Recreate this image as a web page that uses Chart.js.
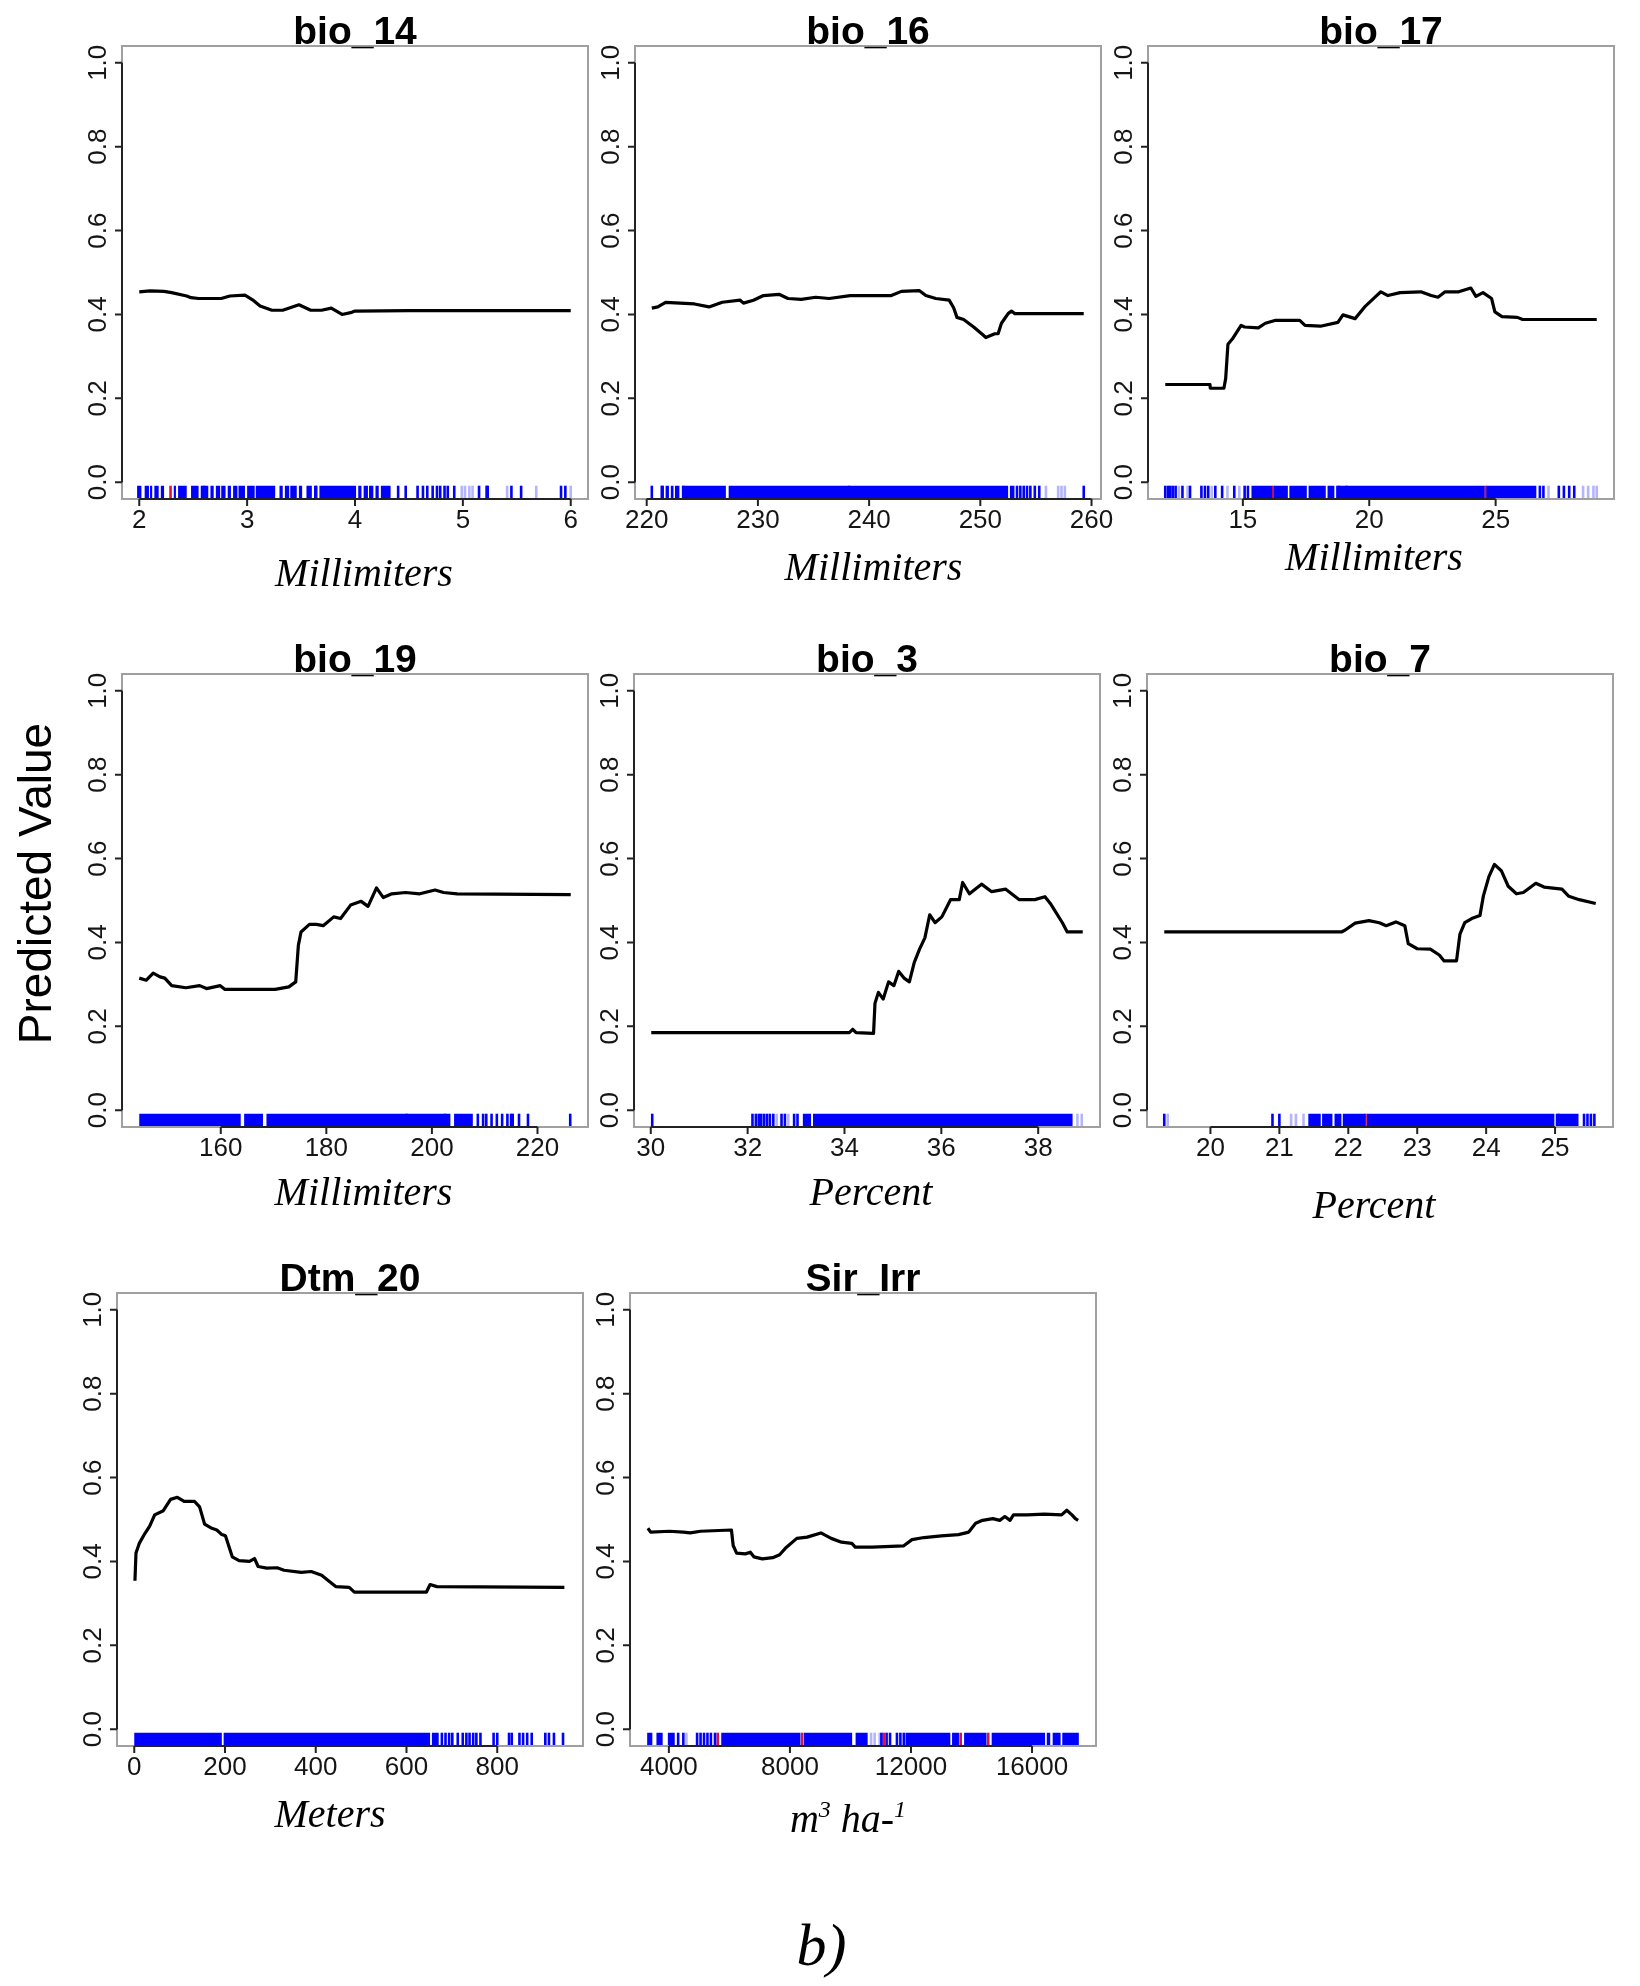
<!DOCTYPE html>
<html lang="en">
  <head>
    <meta charset="UTF-8" />
    <title>Predicted value - response curves b)</title>
    <script src="https://cdn.jsdelivr.net/npm/chart.js@4.4.1/dist/chart.umd.min.js"></script>
    <style>
      body {
        margin: 0;
        background: #ffffff;
      }
      #page {
        position: relative;
        width: 1640px;
        height: 1986px;
        overflow: hidden;
        background: #ffffff;
      }
      #page canvas {
        position: absolute;
      }
    </style>
  </head>
  <body>
    <div id="page">
      <canvas id="labels" width="1640" height="1986" style="left:0;top:0"></canvas>
    </div>

    <script>
      // ---- shared y axis ----
      var yTicks = [0, 0.2, 0.4, 0.6, 0.8, 1.0];
      var yTickLabels = ["0.0", "0.2", "0.4", "0.6", "0.8", "1.0"];

      // ---- bio_14 ----
      var bio14Range = [2.0, 6.0];
      var bio14XTicks = [2, 3, 4, 5, 6];
      var bio14XLabels = ["2", "3", "4", "5", "6"];
      var bio14X = [2.0, 2.1, 2.23, 2.3, 2.44, 2.48, 2.55, 2.76, 2.84, 2.98, 3.05, 3.12, 3.23, 3.33, 3.48, 3.59, 3.69, 3.78, 3.88, 3.97, 4.0, 4.5, 5.0, 6.0];
      var bio14Y = [0.454, 0.456, 0.455, 0.452, 0.444, 0.44, 0.438, 0.438, 0.444, 0.446, 0.435, 0.42, 0.41, 0.41, 0.423, 0.41, 0.41, 0.415, 0.4, 0.405, 0.408, 0.409, 0.409, 0.409];
      var bio14Rug = [[1.98, 2.02], [2.05, 2.09], [2.1, 2.12], [2.14, 2.18], [2.2, 2.23], [2.32, 2.34], [2.36, 2.44], [2.48, 2.55], [2.57, 2.64], [2.66, 2.69], [2.71, 2.75], [2.76, 2.8], [2.82, 2.85], [2.87, 2.91], [2.92, 2.98], [3.0, 3.07], [3.08, 3.26], [3.3, 3.33], [3.35, 3.39], [3.4, 3.46], [3.48, 3.51], [3.55, 3.6], [3.62, 3.65], [3.67, 4.01], [4.03, 4.06], [4.08, 4.12], [4.13, 4.17], [4.19, 4.22], [4.24, 4.33]];
      var bio14RugTicks = [4.4, 4.47, 4.58, 4.63, 4.67, 4.72, 4.76, 4.79, 4.83, 4.86, 4.92, 5.15, 5.22, 5.23, 5.45, 5.54, 5.91, 5.95];
      var bio14RugLight = [4.99, 5.02, 5.06, 5.09, 5.41, 5.68, 6.0];
      var bio14RugRed = [2.29, 2.6, 3.64];

      // ---- bio_16 ----
      var bio16Range = [220.5, 259.3];
      var bio16XTicks = [220, 230, 240, 250, 260];
      var bio16XLabels = ["220", "230", "240", "250", "260"];
      var bio16X = [220.46, 221.0, 221.7, 224.3, 225.6, 226.8, 228.4, 228.7, 229.6, 230.5, 231.9, 232.7, 233.9, 235.2, 236.4, 238.3, 240.4, 242.0, 242.9, 244.5, 245.1, 246.0, 247.2, 247.6, 247.9, 248.5, 249.4, 250.2, 250.5, 251.3, 251.6, 251.9, 252.5, 252.8, 253.1, 259.3];
      var bio16Y = [0.415, 0.418, 0.429, 0.425, 0.418, 0.429, 0.434, 0.427, 0.434, 0.445, 0.448, 0.438, 0.436, 0.441, 0.438, 0.445, 0.445, 0.445, 0.455, 0.457, 0.445, 0.438, 0.434, 0.416, 0.393, 0.388, 0.37, 0.352, 0.345, 0.354, 0.354, 0.379, 0.402, 0.408, 0.402, 0.402];
      var bio16Rug = [[221.24, 221.55], [221.7, 222.0], [222.17, 222.41], [222.54, 222.94], [223.16, 227.12], [227.37, 252.5], [252.66, 253.07]];
      var bio16RugTicks = [220.46, 253.3, 253.6, 253.9, 254.2, 254.5, 254.9, 255.3, 259.3];
      var bio16RugLight = [255.9, 257.0, 257.3, 257.6];
      var bio16RugRed = [221.4, 223.3, 238.2];

      // ---- bio_17 ----
      var bio17Range = [11.93, 29.0];
      var bio17XTicks = [15, 20, 25];
      var bio17XLabels = ["15", "20", "25"];
      var bio17X = [11.93, 13.7, 13.71, 14.25, 14.32, 14.41, 14.59, 14.79, 14.93, 15.07, 15.61, 15.89, 16.3, 17.25, 17.46, 18.07, 18.76, 18.96, 19.44, 19.85, 20.26, 20.46, 20.74, 21.22, 22.04, 22.45, 22.72, 23.0, 23.54, 24.02, 24.22, 24.5, 24.84, 24.97, 25.25, 25.86, 26.07, 29.0];
      var bio17Y = [0.233, 0.233, 0.224, 0.224, 0.247, 0.329, 0.342, 0.361, 0.374, 0.37, 0.368, 0.379, 0.386, 0.386, 0.374, 0.372, 0.381, 0.399, 0.39, 0.42, 0.443, 0.454, 0.445, 0.452, 0.454, 0.445, 0.441, 0.454, 0.454, 0.463, 0.443, 0.452, 0.438, 0.406, 0.395, 0.393, 0.388, 0.388];
      var bio17Rug = [[15.34, 16.16], [16.23, 16.78], [16.84, 17.53], [17.6, 18.28], [18.35, 18.62], [18.69, 24.56], [24.63, 26.61]];
      var bio17RugTicks = [11.93, 12.04, 12.13, 12.23, 12.34, 12.61, 12.91, 13.36, 13.5, 13.63, 13.91, 14.18, 14.66, 15.07, 15.2, 26.75, 26.89, 27.5, 27.7, 27.91, 28.11];
      var bio17RugLight = [12.47, 12.81, 13.77, 14.39, 14.86, 27.09, 28.46, 28.66, 28.87, 29.0];
      var bio17RugRed = [16.2, 18.8, 19.1, 24.6];

      // ---- bio_19 ----
      var bio19Range = [144.56, 226.3];
      var bio19XTicks = [160, 180, 200, 220];
      var bio19XLabels = ["160", "180", "200", "220"];
      var bio19X = [144.56, 145.9, 147.2, 148.5, 149.4, 150.7, 153.4, 156.0, 157.3, 159.9, 160.8, 165.7, 170.3, 172.9, 174.2, 174.7, 175.2, 176.8, 178.1, 179.4, 181.4, 182.7, 184.6, 186.6, 187.9, 189.5, 190.8, 192.4, 195.0, 197.7, 200.6, 202.2, 204.8, 226.3];
      var bio19Y = [0.315, 0.31, 0.327, 0.318, 0.315, 0.297, 0.292, 0.297, 0.29, 0.297, 0.288, 0.288, 0.288, 0.294, 0.306, 0.393, 0.425, 0.443, 0.443, 0.44, 0.461, 0.457, 0.489, 0.498, 0.486, 0.53, 0.507, 0.516, 0.519, 0.516, 0.525, 0.519, 0.516, 0.514];
      var bio19Rug = [[144.56, 163.78], [164.43, 168.0], [168.66, 203.5], [204.2, 207.75]];
      var bio19RugTicks = [208.7, 209.7, 210.3, 211.3, 212.3, 213.3, 214.3, 215.0, 215.3, 216.5, 218.2, 226.2];
      var bio19RugLight = [];
      var bio19RugRed = [195.2, 202.5];

      // ---- bio_3 ----
      var bio3Range = [30.01, 38.92];
      var bio3XTicks = [30, 32, 34, 36, 38];
      var bio3XLabels = ["30", "32", "34", "36", "38"];
      var bio3X = [30.01, 34.1, 34.17, 34.24, 34.6, 34.63, 34.7, 34.8, 34.91, 35.02, 35.12, 35.23, 35.34, 35.44, 35.55, 35.66, 35.76, 35.87, 36.01, 36.19, 36.37, 36.44, 36.58, 36.83, 37.04, 37.33, 37.61, 37.93, 38.14, 38.25, 38.5, 38.6, 38.92];
      var bio3Y = [0.185, 0.185, 0.193, 0.185, 0.183, 0.255, 0.281, 0.265, 0.306, 0.297, 0.331, 0.315, 0.306, 0.352, 0.384, 0.411, 0.466, 0.447, 0.461, 0.502, 0.502, 0.543, 0.516, 0.539, 0.521, 0.527, 0.502, 0.502, 0.509, 0.493, 0.447, 0.425, 0.425];
      var bio3Rug = [[33.14, 33.31], [33.35, 38.71]];
      var bio3RugTicks = [30.03, 32.1, 32.17, 32.23, 32.28, 32.34, 32.4, 32.46, 32.53, 32.7, 32.77, 32.96, 33.03];
      var bio3RugLight = [32.6, 32.84, 38.81, 38.9];
      var bio3RugRed = [];

      // ---- bio_7 ----
      var bio7Range = [19.33, 25.59];
      var bio7XTicks = [20, 21, 22, 23, 24, 25];
      var bio7XLabels = ["20", "21", "22", "23", "24", "25"];
      var bio7X = [19.33, 21.9, 21.95, 22.1, 22.3, 22.45, 22.55, 22.69, 22.82, 22.87, 23.0, 23.19, 23.32, 23.39, 23.57, 23.62, 23.69, 23.79, 23.91, 23.96, 24.04, 24.12, 24.22, 24.32, 24.44, 24.54, 24.72, 24.84, 25.1, 25.2, 25.35, 25.59];
      var bio7Y = [0.425, 0.425, 0.429, 0.446, 0.452, 0.447, 0.44, 0.449, 0.44, 0.397, 0.385, 0.384, 0.37, 0.356, 0.356, 0.42, 0.447, 0.457, 0.464, 0.511, 0.557, 0.586, 0.571, 0.534, 0.516, 0.519, 0.541, 0.532, 0.527, 0.51, 0.502, 0.493];
      var bio7Rug = [[21.42, 21.6], [21.62, 21.77], [21.8, 21.9], [21.92, 22.25], [22.27, 24.99], [25.01, 25.34]];
      var bio7RugTicks = [19.33, 20.9, 21.0, 25.42, 25.47, 25.52, 25.57];
      var bio7RugLight = [19.38, 21.17, 21.24, 21.35];
      var bio7RugRed = [22.25, 25.05];

      // ---- Dtm_20 ----
      var dtm20Range = [0, 951];
      var dtm20XTicks = [0, 200, 400, 600, 800];
      var dtm20XLabels = ["0", "200", "400", "600", "800"];
      var dtm20X = [1.5, 3.8, 11, 23, 34, 45, 64, 80, 95, 110, 133, 144, 155, 171, 182, 193, 201, 216, 231, 254, 265, 273, 292, 315, 330, 368, 390, 413, 428, 444, 474, 485, 644, 652, 667, 948];
      var dtm20Y = [0.354, 0.42, 0.443, 0.466, 0.484, 0.511, 0.521, 0.548, 0.553, 0.543, 0.543, 0.53, 0.489, 0.479, 0.475, 0.464, 0.461, 0.411, 0.402, 0.4, 0.407, 0.388, 0.384, 0.385, 0.379, 0.374, 0.376, 0.367, 0.354, 0.34, 0.338, 0.327, 0.327, 0.345, 0.34, 0.338];
      var dtm20Rug = [[0, 193], [197, 652], [656, 671]];
      var dtm20RugTicks = [678, 686, 694, 701, 713, 724, 732, 739, 747, 754, 763, 792, 800, 826, 832, 849, 857, 866, 876, 906, 914, 925, 945];
      var dtm20RugLight = [];
      var dtm20RugRed = [];

      // ---- Sir_Irr ----
      var sirRange = [3286, 17543];
      var sirXTicks = [4000, 8000, 12000, 16000];
      var sirXLabels = ["4000", "8000", "12000", "16000"];
      var sirX = [3307, 3398, 4023, 4477, 4705, 5045, 6068, 6125, 6239, 6523, 6693, 6807, 7091, 7432, 7659, 7886, 8227, 8568, 9023, 9364, 9705, 10045, 10159, 10727, 11750, 12034, 12432, 13000, 13568, 13909, 14136, 14364, 14705, 14932, 15102, 15273, 15386, 15841, 16409, 16977, 17148, 17318, 17432, 17523];
      var sirY = [0.479, 0.47, 0.472, 0.47, 0.468, 0.472, 0.475, 0.438, 0.42, 0.418, 0.422, 0.411, 0.406, 0.409, 0.416, 0.434, 0.455, 0.458, 0.468, 0.455, 0.446, 0.443, 0.434, 0.434, 0.437, 0.452, 0.457, 0.461, 0.464, 0.47, 0.491, 0.498, 0.502, 0.498, 0.507, 0.498, 0.511, 0.511, 0.513, 0.511, 0.522, 0.511, 0.502, 0.498];
      var sirRug = [[3283, 3454], [3590, 3795], [3966, 4194], [5730, 8348], [8462, 10056], [10170, 10568], [11820, 13300], [13357, 13585], [13755, 14495], [14666, 16430], [16487, 16601], [16681, 16943], [16999, 17546]];
      var sirRugTicks = [4307, 4478, 4933, 5047, 5161, 5275, 5389, 5525, 11023, 11194, 11308, 11536, 11650, 11763];
      var sirRugLight = [4580, 10682, 10800, 10966];
      var sirRugRed = [5616, 8405, 13642, 14552, 11100];

      // ---- panel placement (pixels on the page) ----
      var panels = [
        { title: "bio_14", xt: [["Millimiters", 0]], range: bio14Range, ticks: bio14XTicks, labels: bio14XLabels, x: bio14X, y: bio14Y, rug: bio14Rug, rt: bio14RugTicks, rl: bio14RugLight, rr: bio14RugRed, left: 121.7, top: 45.7, tdx: 9, tdy: 86.7 },
        { title: "bio_16", xt: [["Millimiters", 0]], range: bio16Range, ticks: bio16XTicks, labels: bio16XLabels, x: bio16X, y: bio16Y, rug: bio16Rug, rt: bio16RugTicks, rl: bio16RugLight, rr: bio16RugRed, left: 635.1, top: 45.7, tdx: 5.5, tdy: 80.7 },
        { title: "bio_17", xt: [["Millimiters", 0]], range: bio17Range, ticks: bio17XTicks, labels: bio17XLabels, x: bio17X, y: bio17Y, rug: bio17Rug, rt: bio17RugTicks, rl: bio17RugLight, rr: bio17RugRed, left: 1148.2, top: 45.7, tdx: -7, tdy: 70.7 },
        { title: "bio_19", xt: [["Millimiters", 0]], range: bio19Range, ticks: bio19XTicks, labels: bio19XLabels, x: bio19X, y: bio19Y, rug: bio19Rug, rt: bio19RugTicks, rl: bio19RugLight, rr: bio19RugRed, left: 122, top: 673.6, tdx: 8.5, tdy: 78 },
        { title: "bio_3", xt: [["Percent", 0]], range: bio3Range, ticks: bio3XTicks, labels: bio3XLabels, x: bio3X, y: bio3Y, rug: bio3Rug, rt: bio3RugTicks, rl: bio3RugLight, rr: bio3RugRed, left: 634, top: 673.6, tdx: 4, tdy: 78 },
        { title: "bio_7", xt: [["Percent", 0]], range: bio7Range, ticks: bio7XTicks, labels: bio7XLabels, x: bio7X, y: bio7Y, rug: bio7Rug, rt: bio7RugTicks, rl: bio7RugLight, rr: bio7RugRed, left: 1146.5, top: 673.6, tdx: -6, tdy: 91 },
        { title: "Dtm_20", xt: [["Meters", 0]], range: dtm20Range, ticks: dtm20XTicks, labels: dtm20XLabels, x: dtm20X, y: dtm20Y, rug: dtm20Rug, rt: dtm20RugTicks, rl: dtm20RugLight, rr: dtm20RugRed, left: 116.8, top: 1292.9, tdx: -20, tdy: 81 },
        { title: "Sir_Irr", xt: [["m", 0], ["3", 1], [" ha-", 0], ["1", 1]], range: sirRange, ticks: sirXTicks, labels: sirXLabels, x: sirX, y: sirY, rug: sirRug, rt: sirRugTicks, rl: sirRugLight, rr: sirRugRed, left: 630, top: 1292.9, tdx: -15, tdy: 86 }
      ];

      var BOX_W = 466;
      var BOX_H = 452.6;
      var PAD = { left: 100, top: 60, right: 14, bottom: 130 };
      var RUG_Y = -0.0245;
      var SANS = '"Liberation Sans", Arial, sans-serif';
      var SERIF = '"Liberation Serif", "Times New Roman", serif';

      // box, axes, ticks and all panel texts, placed from the chart's own scales
      var framePlugin = {
        id: "frame",
        afterDraw: function (chart, args, opts) {
          var p = opts.panel;
          var ctx = chart.ctx;
          var a = chart.chartArea;
          var xs = chart.scales.x;
          var ys = chart.scales.y;
          ctx.save();

          ctx.strokeStyle = "#a0a0a0";
          ctx.lineWidth = 2;
          ctx.strokeRect(a.left, a.top, a.right - a.left, a.bottom - a.top);

          var xp = p.ticks.map(function (v) { return xs.getPixelForValue(v); });
          var yp = yTicks.map(function (v) { return ys.getPixelForValue(v); });
          ctx.strokeStyle = "#222";
          ctx.lineWidth = 2;
          ctx.beginPath();
          ctx.moveTo(xp[0], a.bottom);
          ctx.lineTo(xp[xp.length - 1], a.bottom);
          xp.forEach(function (px) { ctx.moveTo(px, a.bottom); ctx.lineTo(px, a.bottom + 7); });
          ctx.moveTo(a.left, yp[0]);
          ctx.lineTo(a.left, yp[yp.length - 1]);
          yp.forEach(function (py) { ctx.moveTo(a.left, py); ctx.lineTo(a.left - 7, py); });
          ctx.stroke();

          ctx.fillStyle = "#151515";
          ctx.font = "26px " + SANS;
          ctx.textAlign = "center";
          ctx.textBaseline = "middle";
          p.labels.forEach(function (t, i) { ctx.fillText(t, xp[i], a.bottom + 22); });
          ctx.textBaseline = "alphabetic";
          yp.forEach(function (py, i) {
            ctx.save();
            ctx.translate(a.left - 16, py);
            ctx.rotate(-Math.PI / 2);
            ctx.fillText(yTickLabels[i], 0, 0);
            ctx.restore();
          });

          ctx.fillStyle = "#000";
          ctx.font = "bold 39px " + SANS;
          ctx.fillText(p.title, (a.left + a.right) / 2, a.top - 2);

          // italic axis title, with superscripts where needed
          var big = "italic 40px " + SERIF;
          var small = "italic 24px " + SERIF;
          var total = 0;
          p.xt.forEach(function (part) {
            ctx.font = part[1] ? small : big;
            total += ctx.measureText(part[0]).width;
          });
          var cx = (a.left + a.right) / 2 + p.tdx - total / 2;
          var by = a.bottom + p.tdy;
          ctx.textAlign = "left";
          p.xt.forEach(function (part) {
            ctx.font = part[1] ? small : big;
            ctx.fillText(part[0], cx, part[1] ? by - 15 : by);
            cx += ctx.measureText(part[0]).width;
          });
          ctx.restore();
        }
      };

      function pts(xArr, yArr) {
        return xArr.map(function (v, i) { return { x: v, y: yArr[i] }; });
      }
      function rugPts(arr) {
        return arr.map(function (v) { return { x: v, y: RUG_Y }; });
      }
      function bandPts(bands) {
        var out = [];
        bands.forEach(function (b) {
          out.push({ x: b[0], y: RUG_Y }, { x: b[1], y: RUG_Y }, { x: b[1], y: null });
        });
        return out;
      }
      function tickSet(data, color) {
        return {
          type: "scatter",
          data: data,
          pointStyle: "line",
          rotation: 90,
          pointRadius: 6.8,
          pointBorderColor: color,
          pointBorderWidth: 2.6,
          pointBackgroundColor: color,
          showLine: false,
          clip: false
        };
      }

      var page = document.getElementById("page");
      panels.forEach(function (p) {
        var cv = document.createElement("canvas");
        cv.width = Math.round(BOX_W + PAD.left + PAD.right);
        cv.height = Math.round(BOX_H + PAD.top + PAD.bottom);
        cv.style.left = (p.left - PAD.left) + "px";
        cv.style.top = (p.top - PAD.top) + "px";
        page.appendChild(cv);

        var lo = p.range[0];
        var hi = p.range[1];
        var ext = (hi - lo) * 0.04;

        new Chart(cv.getContext("2d"), {
          type: "line",
          data: {
            datasets: [
              {
                data: bandPts(p.rug),
                borderColor: "#0000ff",
                borderWidth: 13.6,
                borderCapStyle: "butt",
                pointRadius: 0,
                spanGaps: false,
                clip: false
              },
              tickSet(rugPts(p.rt), "#0000ff"),
              tickSet(rugPts(p.rl), "rgba(90,90,255,0.45)"),
              tickSet(rugPts(p.rr), "#e0103a"),
              {
                data: pts(p.x, p.y),
                borderColor: "#000000",
                borderWidth: 3.2,
                pointRadius: 0,
                tension: 0,
                borderJoinStyle: "round"
              }
            ]
          },
          options: {
            responsive: false,
            animation: false,
            events: [],
            layout: { padding: { left: PAD.left, top: PAD.top, right: PAD.right, bottom: PAD.bottom } },
            scales: {
              x: { type: "linear", display: false, min: lo - ext, max: hi + ext },
              y: { type: "linear", display: false, min: -0.04, max: 1.04 }
            },
            plugins: {
              legend: { display: false },
              tooltip: { enabled: false },
              frame: { panel: p }
            }
          },
          plugins: [framePlugin]
        });
      });

      // shared labels of the figure
      var lc = document.getElementById("labels").getContext("2d");
      lc.fillStyle = "#000";
      lc.font = "46px " + SANS;
      lc.textAlign = "center";
      lc.textBaseline = "alphabetic";
      lc.save();
      lc.translate(51, 883.5);
      lc.rotate(-Math.PI / 2);
      lc.fillText("Predicted Value", 0, 0);
      lc.restore();
      lc.font = "italic 60px " + SERIF;
      lc.fillText("b)", 821.5, 1965);
    </script>
  </body>
</html>
